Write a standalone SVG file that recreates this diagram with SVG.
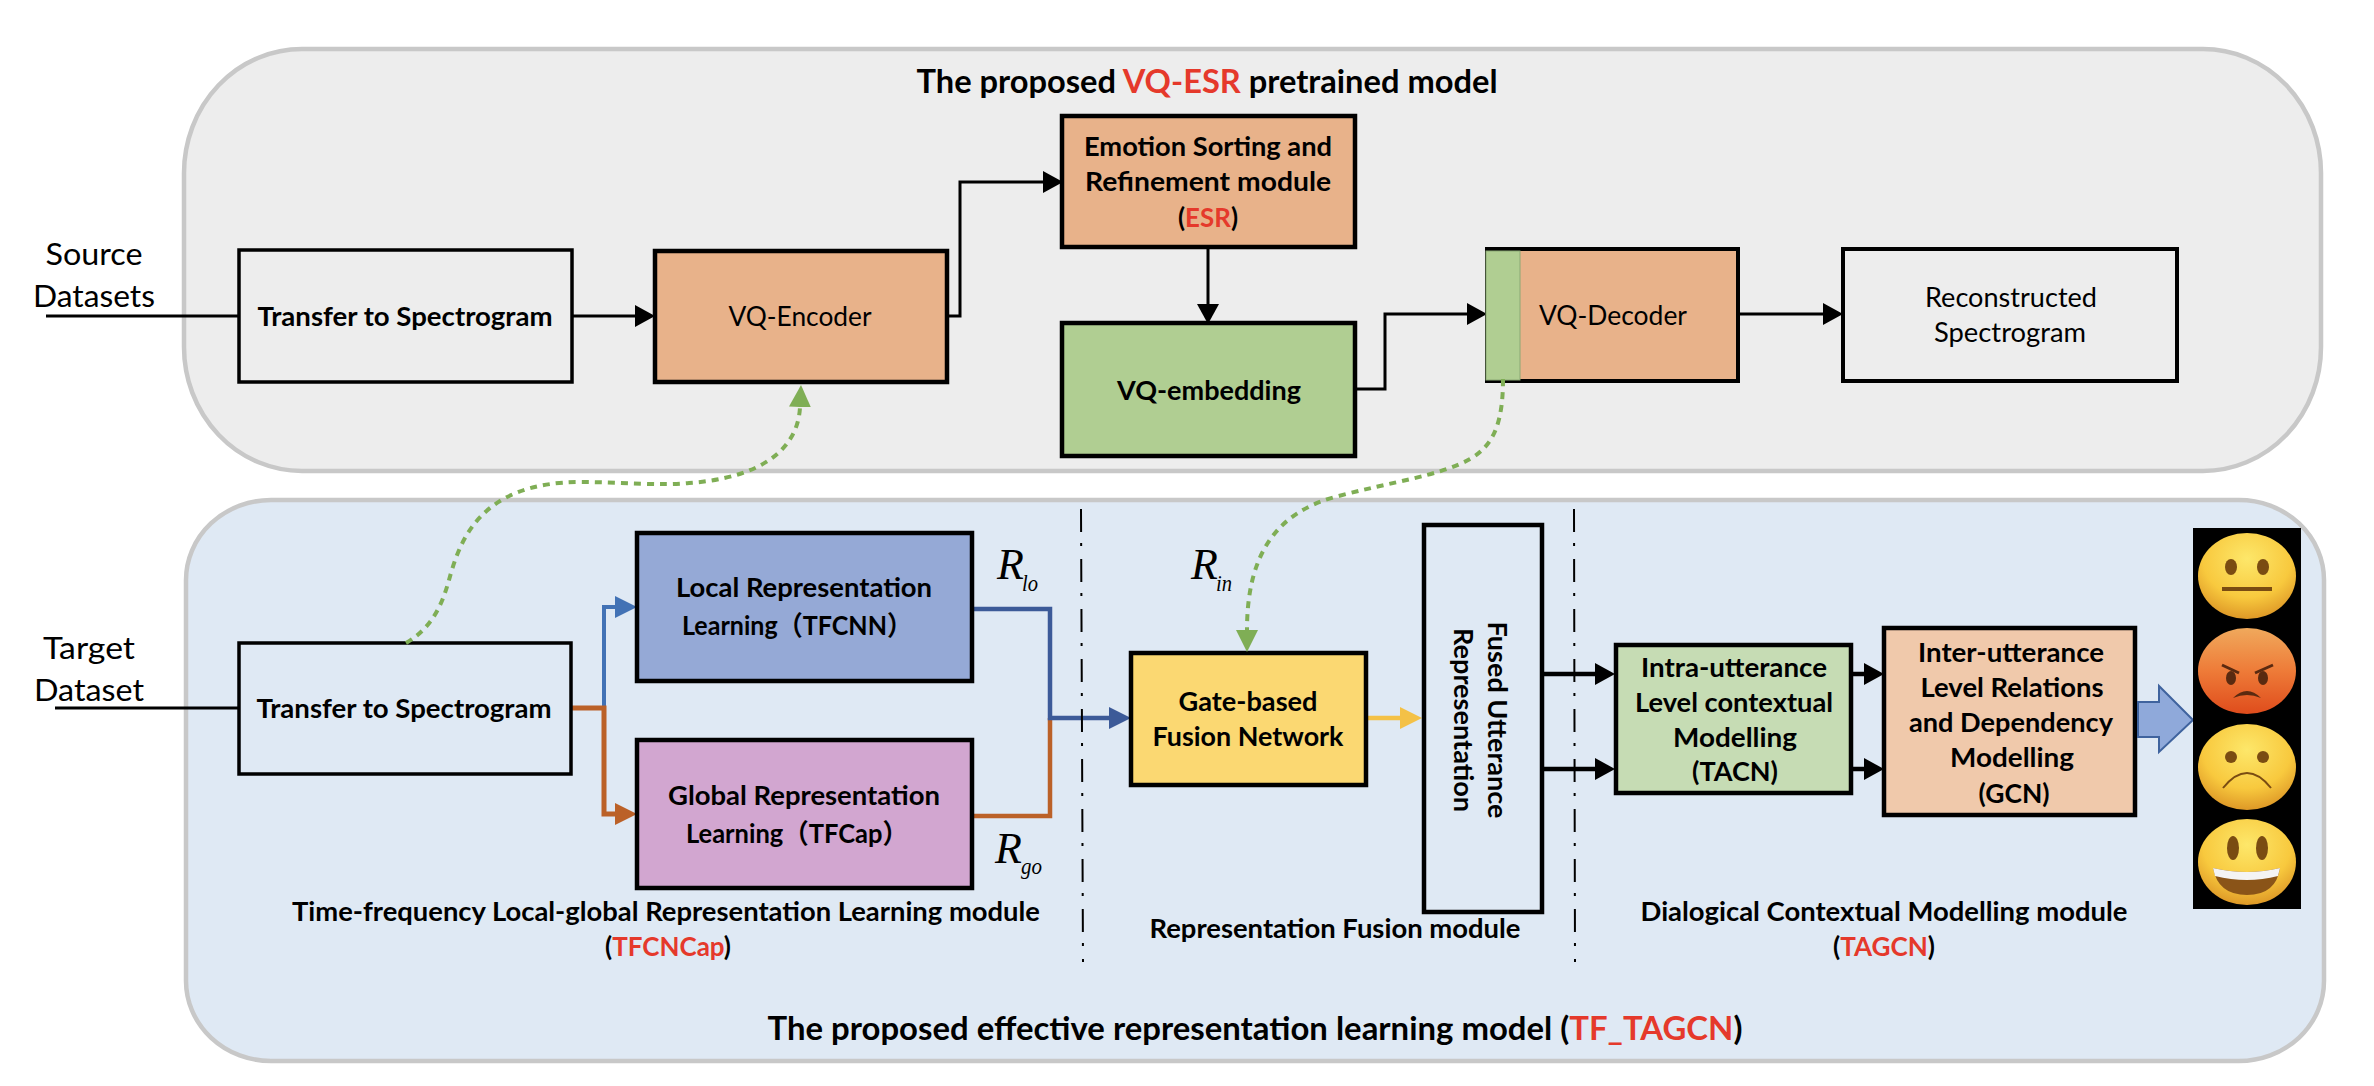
<svg xmlns="http://www.w3.org/2000/svg" width="2374" height="1086" viewBox="0 0 2374 1086">
<style>
text{font-family:Lato,"Noto Sans CJK SC","Liberation Sans",sans-serif;fill:#000;text-anchor:middle}
.b{font-weight:700}
.t{font-size:32px;font-weight:700}
.s{font-size:27px}
.d{font-size:31px}
.r{fill:#e5392b}
.it{font-family:"Liberation Serif",serif;font-style:italic;text-anchor:start}
.box{stroke:#000;stroke-width:4}
.pan{stroke:#c8c8c8;stroke-width:4.5}
.c{fill:none;stroke:#000;stroke-width:3}
.g{fill:none;stroke:#7fae55;stroke-width:4;stroke-dasharray:7 6}
.dd{fill:none;stroke:#000;stroke-width:2;stroke-dasharray:23 11 3 13}
.ey{fill:#7a4c12}
</style>
<defs>
<marker id="ak" markerUnits="userSpaceOnUse" markerWidth="22" markerHeight="24" viewBox="0 -12 22 24" refX="0" refY="0" orient="auto"><path d="M0-11L20 0L0 11Z" fill="#000"/></marker>
<marker id="ab" markerUnits="userSpaceOnUse" markerWidth="24" markerHeight="24" viewBox="0 -12 24 24" refX="0" refY="0" orient="auto"><path d="M0-11L22 0L0 11Z" fill="#4272b5"/></marker>
<marker id="ao" markerUnits="userSpaceOnUse" markerWidth="24" markerHeight="24" viewBox="0 -12 24 24" refX="0" refY="0" orient="auto"><path d="M0-11L22 0L0 11Z" fill="#bb6128"/></marker>
<marker id="an" markerUnits="userSpaceOnUse" markerWidth="24" markerHeight="24" viewBox="0 -12 24 24" refX="0" refY="0" orient="auto"><path d="M0-11L22 0L0 11Z" fill="#3c5a98"/></marker>
<marker id="ay" markerUnits="userSpaceOnUse" markerWidth="24" markerHeight="24" viewBox="0 -12 24 24" refX="0" refY="0" orient="auto"><path d="M0-11L22 0L0 11Z" fill="#f4c146"/></marker>
<marker id="ag" markerUnits="userSpaceOnUse" markerWidth="26" markerHeight="24" viewBox="0 -12 26 24" refX="0" refY="0" orient="auto"><path d="M0-11L22 0L0 11Z" fill="#7fae55"/></marker>
<radialGradient id="fy" cx="0.5" cy="0.3" r="0.75"><stop offset="0" stop-color="#fde76a"/><stop offset="0.6" stop-color="#f8c93e"/><stop offset="1" stop-color="#d98f22"/></radialGradient>
<linearGradient id="fr" x1="0" y1="0" x2="0" y2="1"><stop offset="0" stop-color="#f0a95c"/><stop offset="0.5" stop-color="#ee7b38"/><stop offset="1" stop-color="#df4c1c"/></linearGradient>
</defs>
<rect width="2374" height="1086" fill="#fff"/>
<g id="panel-vqesr"><rect class="pan" x="184" y="49" width="2137" height="422" rx="118" ry="124" fill="#ededed"/>
<text class="t" x="1207" y="93" textLength="581" lengthAdjust="spacingAndGlyphs">The proposed <tspan class="r">VQ-ESR</tspan> pretrained model</text></g>
<g id="panel-tftagcn"><rect class="pan" x="186" y="500" width="2138" height="561" rx="85" ry="80" fill="#dfe9f4"/>
<text class="t" x="1255" y="1040" textLength="975" lengthAdjust="spacingAndGlyphs">The proposed effective representation learning model (<tspan class="r">TF_TAGCN</tspan>)</text></g>
<g id="connectors">
<path class="c" d="M46 316H239"/>
<path class="c" d="M572 316H635" marker-end="url(#ak)"/>
<path class="c" d="M947 316H960V182H1043" marker-end="url(#ak)"/>
<path class="c" d="M1208 247V304" marker-end="url(#ak)"/>
<path class="c" d="M1355 389H1385V314H1467" marker-end="url(#ak)"/>
<path class="c" d="M1738 314H1823" marker-end="url(#ak)"/>
<path class="c" d="M55 708H239"/>
<path d="M604 708V607H615" fill="none" stroke="#4272b5" stroke-width="4" marker-end="url(#ab)"/>
<path d="M571 708H604V814H615" fill="none" stroke="#bb6128" stroke-width="5" marker-end="url(#ao)"/>
<path d="M972 816H1050V718" fill="none" stroke="#bb6128" stroke-width="4.5"/>
<path d="M972 609H1050V718H1109" fill="none" stroke="#3c5a98" stroke-width="4.5" marker-end="url(#an)"/>
<path d="M1366 718H1400" fill="none" stroke="#f4c146" stroke-width="4.5" marker-end="url(#ay)"/>
<path d="M1541 674H1595" fill="none" stroke="#000" stroke-width="4.5" marker-end="url(#ak)"/>
<path d="M1541 769H1595" fill="none" stroke="#000" stroke-width="4.5" marker-end="url(#ak)"/>
<path d="M1851 674H1864" fill="none" stroke="#000" stroke-width="4.5" marker-end="url(#ak)"/>
<path d="M1851 769H1864" fill="none" stroke="#000" stroke-width="4.5" marker-end="url(#ak)"/>
<path class="dd" d="M1081 509L1083 962"/>
<path class="dd" d="M1574 509L1575 962"/>
</g>
<g id="source-label"><text class="d" x="94" y="265" textLength="97" lengthAdjust="spacingAndGlyphs">Source</text><text class="d" x="94" y="307" textLength="122" lengthAdjust="spacingAndGlyphs">Datasets</text></g>
<g id="target-label"><text class="d" x="89" y="659" textLength="92" lengthAdjust="spacingAndGlyphs">Target</text><text class="d" x="89" y="701" textLength="110" lengthAdjust="spacingAndGlyphs">Dataset</text></g>
<g id="transfer-source"><rect class="box" x="239" y="250" width="333" height="132" fill="none" style="stroke-width:3.5"/><text class="s b" x="405" y="326" textLength="295" lengthAdjust="spacingAndGlyphs">Transfer to Spectrogram</text></g>
<g id="vq-encoder"><rect class="box" x="655" y="251" width="292" height="131" fill="#e8b28a" style="stroke-width:4.5"/><text class="s" x="800" y="326" textLength="143" lengthAdjust="spacingAndGlyphs">VQ-Encoder</text></g>
<g id="esr"><rect class="box" x="1062" y="116" width="293" height="131" fill="#e8b28a" style="stroke-width:4.5"/>
<text class="s b" x="1208" y="156" textLength="248" lengthAdjust="spacingAndGlyphs">Emotion Sorting and</text>
<text class="s b" x="1208" y="191" textLength="246" lengthAdjust="spacingAndGlyphs">Refinement module</text>
<text class="s b" x="1208" y="227" textLength="60" lengthAdjust="spacingAndGlyphs">(<tspan class="r">ESR</tspan>)</text></g>
<g id="vq-embedding"><rect class="box" x="1062" y="323" width="293" height="133" fill="#b0ce92" style="stroke-width:4.5"/><text class="s b" x="1209" y="400" textLength="184" lengthAdjust="spacingAndGlyphs">VQ-embedding</text></g>
<g id="vq-decoder"><rect class="box" x="1487" y="249" width="251" height="132" fill="#e8b28a"/><rect x="1486" y="251" width="34" height="129" fill="#b0ce92" stroke="#8aa874" stroke-width="1"/><text class="s" x="1613" y="325" textLength="148" lengthAdjust="spacingAndGlyphs">VQ-Decoder</text></g>
<g id="reconstructed"><rect class="box" x="1843" y="249" width="334" height="132" fill="none"/><text class="s" x="2011" y="307" textLength="172" lengthAdjust="spacingAndGlyphs">Reconstructed</text><text class="s" x="2010" y="342" textLength="152" lengthAdjust="spacingAndGlyphs">Spectrogram</text></g>
<g id="transfer-target"><rect class="box" x="239" y="643" width="332" height="131" fill="none" style="stroke-width:3.5"/><text class="s b" x="404" y="718" textLength="295" lengthAdjust="spacingAndGlyphs">Transfer to Spectrogram</text></g>
<g id="local"><rect class="box" x="637" y="533" width="335" height="148" fill="#95a9d6" style="stroke-width:4.5"/><text class="s b" x="804" y="597" textLength="256" lengthAdjust="spacingAndGlyphs">Local Representation</text><text class="s b" x="797" y="635" textLength="230" lengthAdjust="spacingAndGlyphs">Learning（TFCNN）</text>
<text class="it" x="997" y="579" font-size="44">R</text><text class="it" x="1022" y="591" font-size="24" textLength="16" lengthAdjust="spacingAndGlyphs">lo</text></g>
<g id="global"><rect class="box" x="637" y="740" width="335" height="148" fill="#d2a6d0" style="stroke-width:4.5"/><text class="s b" x="804" y="805" textLength="272" lengthAdjust="spacingAndGlyphs">Global Representation</text><text class="s b" x="797" y="843" textLength="222" lengthAdjust="spacingAndGlyphs">Learning（TFCap）</text>
<text class="it" x="995" y="863" font-size="44">R</text><text class="it" x="1021" y="874" font-size="24" textLength="21" lengthAdjust="spacingAndGlyphs">go</text></g>
<g id="gate"><rect class="box" x="1131" y="653" width="235" height="132" fill="#fbd872" style="stroke-width:4.5"/><text class="s b" x="1248" y="711" textLength="139" lengthAdjust="spacingAndGlyphs">Gate-based</text><text class="s b" x="1248" y="746" textLength="191" lengthAdjust="spacingAndGlyphs">Fusion Network</text>
<text class="it" x="1191" y="579" font-size="44">R</text><text class="it" x="1216" y="591" font-size="24" textLength="16" lengthAdjust="spacingAndGlyphs">in</text></g>
<g id="fused"><rect class="box" x="1424" y="525" width="118" height="387" fill="none" style="stroke-width:4.5"/>
<text class="s b" transform="translate(1488 720) rotate(90)" textLength="197" lengthAdjust="spacingAndGlyphs">Fused Utterance</text>
<text class="s b" transform="translate(1454 720) rotate(90)" textLength="184" lengthAdjust="spacingAndGlyphs">Representation</text></g>
<g id="intra"><rect class="box" x="1616" y="645" width="235" height="148" fill="#c6dcb4" style="stroke-width:4.5"/>
<text class="s b" x="1734" y="677" textLength="186" lengthAdjust="spacingAndGlyphs">Intra-utterance</text>
<text class="s b" x="1734" y="712" textLength="198" lengthAdjust="spacingAndGlyphs">Level contextual</text>
<text class="s b" x="1735" y="747" textLength="124" lengthAdjust="spacingAndGlyphs">Modelling</text>
<text class="s b" x="1735" y="781" textLength="86" lengthAdjust="spacingAndGlyphs">(TACN)</text></g>
<g id="inter"><rect class="box" x="1884" y="628" width="251" height="187" fill="#f0c9ab" style="stroke-width:4.5"/>
<text class="s b" x="2011" y="662" textLength="186" lengthAdjust="spacingAndGlyphs">Inter-utterance</text>
<text class="s b" x="2012" y="697" textLength="183" lengthAdjust="spacingAndGlyphs">Level Relations</text>
<text class="s b" x="2011" y="732" textLength="204" lengthAdjust="spacingAndGlyphs">and Dependency</text>
<text class="s b" x="2012" y="767" textLength="124" lengthAdjust="spacingAndGlyphs">Modelling</text>
<text class="s b" x="2014" y="803" textLength="71" lengthAdjust="spacingAndGlyphs">(GCN)</text></g>
<g id="module-labels">
<text class="s b" x="666" y="921" textLength="748" lengthAdjust="spacingAndGlyphs">Time-frequency Local-global Representation Learning module</text>
<text class="s b" x="668" y="956" textLength="126" lengthAdjust="spacingAndGlyphs">(<tspan class="r">TFCNCap</tspan>)</text>
<text class="s b" x="1335" y="938" textLength="371" lengthAdjust="spacingAndGlyphs">Representation Fusion module</text>
<text class="s b" x="1884" y="921" textLength="487" lengthAdjust="spacingAndGlyphs">Dialogical Contextual Modelling module</text>
<text class="s b" x="1884" y="956" textLength="102" lengthAdjust="spacingAndGlyphs">(<tspan class="r">TAGCN</tspan>)</text>
</g>
<g id="transfer-links">
<path class="g" d="M406 643C432 628 442 605 449 580C460 540 480 482 581 482C620 482 660 486 689 483C760 478 798 450 800 407" marker-end="url(#ag)"/>
<path class="g" d="M1503 379C1503 420 1495 445 1470 459C1440 476 1390 482 1335 497C1280 512 1247 550 1247 630" marker-end="url(#ag)"/>
</g>
<g id="output-arrow"><path d="M2138 702H2159V686L2193 720L2159 752V737H2138Z" fill="#8fa9da" stroke="#3f639e" stroke-width="2"/></g>
<g id="emotions"><rect x="2193" y="528" width="108" height="381" fill="#000"/>
<ellipse cx="2247" cy="576" rx="49" ry="43" fill="url(#fy)"/>
<ellipse class="ey" cx="2231" cy="567" rx="6" ry="8"/><ellipse class="ey" cx="2263" cy="567" rx="6" ry="8"/><path d="M2222 589H2272" stroke="#7a4c12" stroke-width="4" fill="none"/>
<ellipse cx="2247" cy="671" rx="49" ry="43" fill="url(#fr)"/>
<ellipse cx="2231" cy="678" rx="5" ry="7" fill="#5a2a10"/><ellipse cx="2263" cy="678" rx="5" ry="7" fill="#5a2a10"/>
<path d="M2222 665L2239 673M2255 673L2273 665" stroke="#5a2a10" stroke-width="3" fill="none"/><path d="M2233 698Q2247 684 2261 698Q2247 692 2233 698Z" fill="#5a2a10"/>
<ellipse cx="2247" cy="767" rx="49" ry="43" fill="url(#fy)"/>
<ellipse class="ey" cx="2231" cy="757" rx="6" ry="6"/><ellipse class="ey" cx="2263" cy="757" rx="6" ry="6"/><path d="M2223 788Q2247 758 2271 788" stroke="#7a4c12" stroke-width="2" fill="none"/>
<ellipse cx="2247" cy="862" rx="49" ry="43" fill="url(#fy)"/>
<ellipse class="ey" cx="2233" cy="848" rx="6" ry="12"/><ellipse class="ey" cx="2262" cy="848" rx="6" ry="12"/>
<path d="M2213 868Q2247 876 2280 868Q2276 895 2247 895Q2218 895 2213 868Z" fill="#8a5418"/><path d="M2213 868Q2247 876 2280 868L2278 876Q2247 884 2215 876Z" fill="#f4f4f4"/>
</g>
</svg>
